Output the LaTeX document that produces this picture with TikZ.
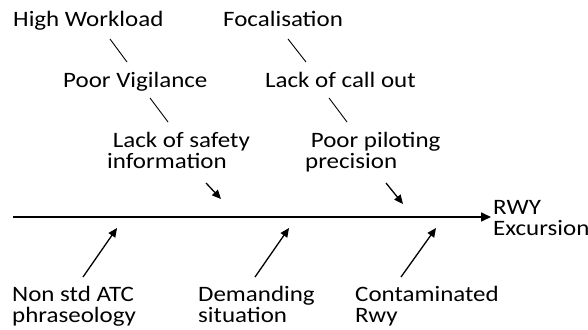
\documentclass[tikz,border=0pt]{standalone}
\usepackage{fontspec}
\setmainfont{Carlito}[FakeStretch=1.135]
\usetikzlibrary{arrows.meta}
\tikzset{
	lbl/.style={anchor=base west,inner sep=0pt,align=left,font=\fontsize{22}{20.5}\selectfont},
	tick/.style={line width=0.9},
	cause/.style={line width=1.3,-{Triangle[length=9pt,width=8pt]}},
}
\begin{document}
\begin{tikzpicture}[x=1pt,y=-1pt]
			\useasboundingbox (0,0) rectangle (588,329);
			\coordinate (S) at (13,217);
			\coordinate (T) at (491,217);
			\node[lbl] (rwy) at (493,235) {RWY\\Excursion};
			\draw [line width=1.6,-{Triangle[length=10pt,width=9pt]}] (S) to (T);
			% upper branches
			\node[lbl] (hw) at (13,27) {High Workload};
			\node[lbl] (foc) at (223,27) {Focalisation};
			\node[lbl] (pv) at (63,87) {Poor Vigilance};
			\node[lbl] (lco) at (265,87) {Lack of call out};
			\node[lbl] (lsi) at (107,168) {\ Lack of safety\\information};
			\node[lbl] (ppp) at (305,168) {\ Poor piloting\\precision};
			\coordinate (A1) at (110,39);   \coordinate (A2) at (127,62);
			\coordinate (B1) at (150,98);   \coordinate (B2) at (168,122);
			\coordinate (C1) at (288,39);   \coordinate (C2) at (306,62);
			\coordinate (D1) at (329,98);   \coordinate (D2) at (347,122);
			\coordinate (E1) at (206,183);  \coordinate (E2) at (221,199);
			\coordinate (F1) at (386,183);  \coordinate (F2) at (403,204);
			\draw [tick] (A1) to (A2);
			\draw [tick] (B1) to (B2);
			\draw [tick] (C1) to (C2);
			\draw [tick] (D1) to (D2);
			\draw [cause] (E1) to (E2);
			\draw [cause] (F1) to (F2);
			% lower branches
			\node[lbl] (nsa) at (12,322) {Non std ATC\\phraseology};
			\node[lbl] (dsi) at (198,322) {Demanding\\situation};
			\node[lbl] (crw) at (355,322) {Contaminated\\Rwy};
			\coordinate (G1) at (83,277);   \coordinate (G2) at (117,228);
			\coordinate (H1) at (255,277);  \coordinate (H2) at (289,228);
			\coordinate (K1) at (401,277);  \coordinate (K2) at (436,228);
			\draw [cause] (G1) to (G2);
			\draw [cause] (H1) to (H2);
			\draw [cause] (K1) to (K2);
		\end{tikzpicture}
\end{document}
